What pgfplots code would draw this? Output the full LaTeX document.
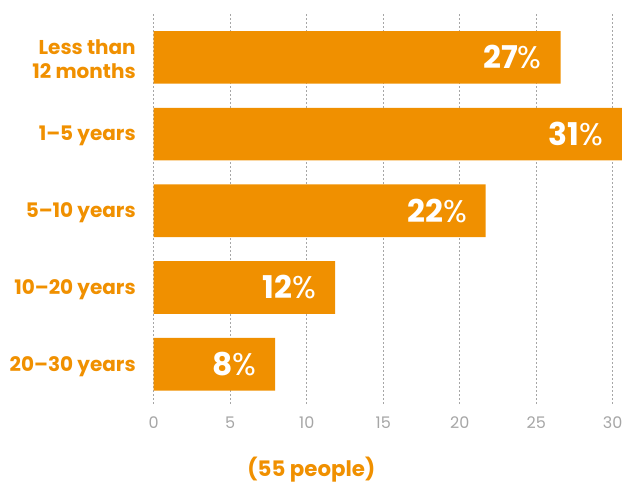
\documentclass[border=0pt]{standalone}
\usepackage{pgfplots}
\pgfplotsset{compat=1.18}
\usepackage{fontspec}
\setmainfont{Poppins}
\definecolor{bar}{HTML}{F09000}
\definecolor{tickc}{HTML}{A6A6A6}
\begin{document}
\begin{tikzpicture}
\begin{axis}[
  at={(0,0)}, anchor=south west,
  xbar, scale only axis, width=344.25pt, height=292.5pt,
  xmin=0, xmax=30, ymin=-0.519, ymax=4.566,
  clip=false,
  bar width=39.5pt,
  xtick={0,5,...,30},
  ytick={0,1,2,3,4},
  yticklabels={20–30 years, 10–20 years, 5–10 years, 1–5 years, {Less than\\12 months}},
  axis line style={draw=none},
  major tick length=0pt,
  xmajorgrids,
  grid style={draw=tickc, dash pattern=on 1.5pt off 1.5pt, line width=0.6pt},
  /pgf/number format/assume math mode=true,
  xticklabel style={font=\fontsize{12}{12}\selectfont, text=tickc, anchor=base, yshift=-18.2pt, inner sep=0pt},
  yticklabel style={font=\bfseries\fontsize{15}{18}\selectfont, text=bar, align=right, anchor=east, inner sep=0pt, xshift=-13.3pt, yshift=-1.5pt},
  point meta=explicit symbolic,
  nodes near coords={\textbf{\pgfplotspointmeta}\%},
  nodes near coords style={anchor=east, xshift=-14pt, font=\fontsize{23.5}{23.5}\selectfont, text=white, inner sep=0pt},
]
\addplot[fill=bar, draw=none] coordinates {
  (7.93,0) [8]
  (11.85,1) [12]
  (21.7,2) [22]
  (30.6,3) [31]
  (26.6,4) [27]
};
\end{axis}
\node[anchor=base, font=\bfseries\fontsize{16}{16}\selectfont, text=bar] at (118.2pt,-54.5pt) {(55 people)};
\pgfresetboundingbox
\path[use as bounding box] (-115.3pt,-59.25pt) rectangle (358.7pt,303pt);
\end{tikzpicture}
\end{document}
